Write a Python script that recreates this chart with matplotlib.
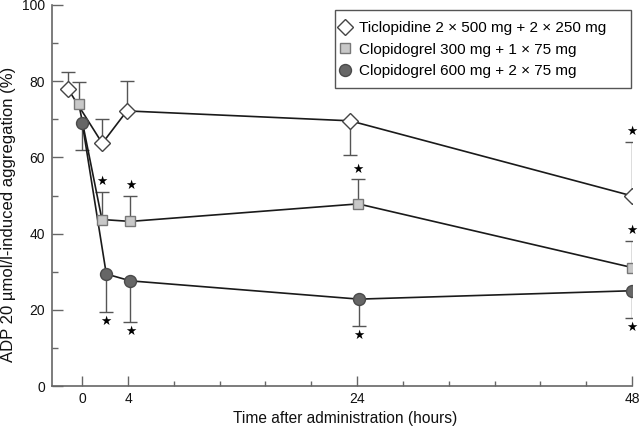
import matplotlib
matplotlib.use("Agg")
import matplotlib.pyplot as plt
from matplotlib.lines import Line2D
from matplotlib.patches import Rectangle
import numpy as np

plt.rcParams['font.family'] = ['Liberation Sans', 'DejaVu Sans']

# ---- data ----
labels = ["Ticlopidine 2 \u00d7 500 mg + 2 \u00d7 250 mg",
          "Clopidogrel 300 mg + 1 \u00d7 75 mg",
          "Clopidogrel 600 mg + 2 \u00d7 75 mg"]

tic_t = [-1.25, 1.75, 3.9, 23.4, 48]
tic_v = [78.0, 63.7, 72.2, 69.6, 49.9]
tic_err = [4.3, 6.5, 7.9, -8.9, 14.2]      # + up, - down
tic_sig = [False, False, False, False, True]

c300_t = [-0.3, 1.72, 4.2, 24.1, 48]
c300_v = [74.0, 43.7, 43.2, 47.8, 31.1]
c300_err = [5.9, 7.3, 6.6, 6.4, 7.0]
c300_sig = [False, True, True, True, True]

c600_t = [0, 2.1, 4.2, 24.15, 48]
c600_v = [69.0, 29.4, 27.6, 22.8, 25.0]
c600_err = [-7.0, -10.0, -10.9, -7.1, -7.2]
c600_sig = [False, True, True, True, True]

xticks_major = [0, 4, 24, 48]

# ---- styles ----
styles = [
    dict(marker='D', ms=8.3, mfc='white', mec='#444444'),
    dict(marker='s', ms=7.5, mfc='#c8c8c8', mec='#777777'),
    dict(marker='o', ms=8.6, mfc='#666666', mec='#4a4a4a'),
]

W, H = 640, 428
fig = plt.figure(figsize=(W/100, H/100), dpi=100)
ax = fig.add_axes([52/W, 42/H, 580/W, 381/H])

series = [(tic_t, tic_v, tic_err, tic_sig),
          (c300_t, c300_v, c300_err, c300_sig),
          (c600_t, c600_v, c600_err, c600_sig)]

ebc = '#555555'
for (t, v, e, sig), st in zip(series, styles):
    t = np.array(t); v = np.array(v); e = np.array(e)
    cap = v + e
    ax.vlines(t, v, cap, color=ebc, lw=1.0, zorder=2)
    ax.plot(t, cap, ls='none', marker='_', ms=10, mew=1.0, color=ebc, zorder=2)
    ax.plot(t, v, color='#1a1a1a', lw=1.2, zorder=3)
    ax.plot(t, v, ls='none', mew=1.0, zorder=4, **st)
    for ti, ci, ei, s in zip(t, cap, e, sig):
        if s:
            ax.annotate('\u2605', xy=(ti, ci), xytext=(0, 7.5 if ei > 0 else -6.5),
                        textcoords='offset points', ha='center', va='center',
                        fontsize=9, family='DejaVu Sans', color='black')

ax.set_xlim(-2.64, 48)
ax.set_ylim(0, 100)
ax.set_xticks(xticks_major)
ax.set_xticks(np.arange(0, 49, 4), minor=True)
ax.set_yticks(np.arange(0, 101, 20))
ax.set_yticks(np.arange(0, 101, 10), minor=True)

sc = '#666666'
for s in ['top', 'right']:
    ax.spines[s].set_visible(False)
for s in ['left', 'bottom']:
    ax.spines[s].set_color(sc)
    ax.spines[s].set_linewidth(1.2)
ax.tick_params(axis='both', which='both', direction='in', color=sc, width=1.0,
               labelsize=10, labelcolor='#111111')
ax.tick_params(axis='y', which='major', length=8, pad=5)
ax.tick_params(axis='y', which='minor', length=4.3)
ax.tick_params(axis='x', which='major', length=7.2, pad=4)
ax.tick_params(axis='x', which='minor', length=3.6)

ax.set_xlabel('Time after administration (hours)', fontsize=11.2, color='#111111', va='center')
ax.xaxis.set_label_coords(0.505, -33/381)
ax.set_ylabel('ADP 20 \u00b5mol/l-induced aggregation (%)', fontsize=12, color='#111111', va='center')
ax.yaxis.set_label_coords(-43/580, 0.451)

handles = [Line2D([], [], ls='none', mew=1.0, **st) for st in styles]
leg = fig.legend(handles, labels, loc='upper left',
                 bbox_to_anchor=(337/W, 1 - 21/H), bbox_transform=fig.transFigure,
                 frameon=False, fontsize=11, handlelength=1.0,
                 handletextpad=0.42, borderpad=0, labelspacing=0.5, borderaxespad=0)
fig.patches.append(Rectangle((335/W, 1 - 88/H), 296/W, 78/H, transform=fig.transFigure,
                             fill=False, edgecolor='#555555', lw=1.0, zorder=5))

fig.savefig('out.png', dpi=100)
